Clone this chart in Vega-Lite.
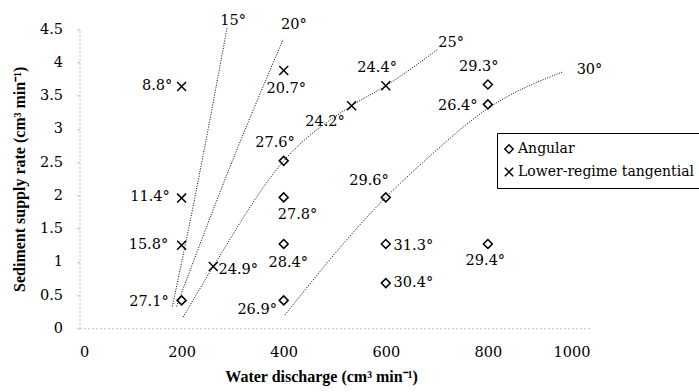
{
  "$schema": "https://vega.github.io/schema/vega-lite/v6.json",
  "width": 510.5,
  "height": 299,
  "autosize": {"type": "none"},
  "padding": {"left": 79.5, "top": 29.3, "right": 109, "bottom": 63.7},
  "background": "white",
  "config": {"view": {"stroke": null}, "font": "DejaVu Serif"},
  "layer": [
    {
      "data": {"values": [
        {"curve": "15", "x": 182, "y": 0.33},
        {"curve": "15", "x": 226, "y": 1.97},
        {"curve": "15", "x": 289, "y": 4.52},
        {"curve": "20", "x": 190, "y": 0.33},
        {"curve": "20", "x": 300, "y": 2.53},
        {"curve": "20", "x": 399, "y": 4.35},
        {"curve": "25", "x": 203, "y": 0.17},
        {"curve": "25", "x": 262, "y": 0.93},
        {"curve": "25", "x": 400, "y": 2.52},
        {"curve": "25", "x": 533, "y": 3.35},
        {"curve": "25", "x": 600, "y": 3.65},
        {"curve": "25", "x": 702, "y": 4.2},
        {"curve": "30", "x": 402, "y": 0.2},
        {"curve": "30", "x": 600, "y": 1.97},
        {"curve": "30", "x": 679, "y": 2.54},
        {"curve": "30", "x": 800, "y": 3.31},
        {"curve": "30", "x": 947, "y": 3.86}
      ]},
      "mark": {"type": "line", "color": "black", "strokeWidth": 1, "strokeDash": [1, 1.5], "interpolate": "monotone"},
      "encoding": {
        "x": {
          "field": "x", "type": "quantitative",
          "scale": {"domain": [0, 1000], "nice": false, "zero": false},
          "axis": {
            "title": "Water discharge (cm³ min⁻¹)",
            "tickCount": 5,
            "format": "d",
            "grid": false, "ticks": false,
            "domainColor": "#c0c0c0", "domainDash": [2, 2], "domainWidth": 1,
            "labelFont": "DejaVu Serif", "labelFontSize": 14.5, "labelColor": "black", "labelPadding": 17,
            "titleFont": "Liberation Serif", "titleFontSize": 16, "titleFontWeight": "bold", "titleColor": "black",
            "titlePadding": 10, "titleX": 241.5
          }
        },
        "y": {
          "field": "y", "type": "quantitative",
          "scale": {"domain": [0, 4.5], "nice": false, "zero": false},
          "axis": {
            "title": "Sediment supply rate (cm³ min⁻¹)",
            "tickCount": 9,
            "format": "~g",
            "grid": false,
            "tickColor": "#c0c0c0", "tickSize": 3,
            "domainColor": "#c0c0c0", "domainDash": [2, 2], "domainWidth": 1,
            "labelFont": "DejaVu Serif", "labelFontSize": 14.5, "labelColor": "black", "labelPadding": 14,
            "titleFont": "Liberation Serif", "titleFontSize": 16, "titleFontWeight": "bold", "titleColor": "black",
            "titlePadding": 12
          }
        },
        "detail": {"field": "curve"}
      }
    },
    {
      "data": {"values": [
        {"x": 200, "y": 0.42, "type": "Angular"},
        {"x": 400, "y": 0.42, "type": "Angular"},
        {"x": 400, "y": 1.27, "type": "Angular"},
        {"x": 400, "y": 1.97, "type": "Angular"},
        {"x": 400, "y": 2.52, "type": "Angular"},
        {"x": 600, "y": 1.97, "type": "Angular"},
        {"x": 600, "y": 1.27, "type": "Angular"},
        {"x": 600, "y": 0.68, "type": "Angular"},
        {"x": 800, "y": 1.27, "type": "Angular"},
        {"x": 800, "y": 3.37, "type": "Angular"},
        {"x": 800, "y": 3.67, "type": "Angular"},
        {"x": 200, "y": 3.64, "type": "Lower-regime tangential"},
        {"x": 400, "y": 3.88, "type": "Lower-regime tangential"},
        {"x": 200, "y": 1.96, "type": "Lower-regime tangential"},
        {"x": 200, "y": 1.25, "type": "Lower-regime tangential"},
        {"x": 262, "y": 0.93, "type": "Lower-regime tangential"},
        {"x": 533, "y": 3.35, "type": "Lower-regime tangential"},
        {"x": 600, "y": 3.65, "type": "Lower-regime tangential"}
      ]},
      "mark": {"type": "point", "filled": false, "color": "black", "strokeWidth": 1.5, "size": 80, "opacity": 1},
      "encoding": {
        "x": {"field": "x", "type": "quantitative"},
        "y": {"field": "y", "type": "quantitative"},
        "shape": {
          "field": "type", "type": "nominal",
          "scale": {"domain": ["Angular", "Lower-regime tangential"], "range": ["diamond", "M-1,-1L1,1M-1,1L1,-1"]},
          "legend": {
            "title": null, "orient": "none", "legendX": 417.5, "legendY": 103.7,
            "strokeColor": "black", "fillColor": "white", "padding": 5,
            "labelFont": "DejaVu Serif", "labelFontSize": 14, "labelColor": "black", "labelOffset": 2, "labelLimit": 0,
            "symbolStrokeColor": "black", "symbolStrokeWidth": 1.5, "symbolSize": 70,
            "clipHeight": 22, "rowPadding": 1
          }
        }
      }
    },
    {
      "data": {"values": [
        {"x": 152, "y": 3.65, "t": "8.8°"},
        {"x": 405, "y": 3.6, "t": "20.7°"},
        {"x": 481, "y": 3.1, "t": "24.2°"},
        {"x": 383, "y": 2.79, "t": "27.6°"},
        {"x": 138, "y": 1.98, "t": "11.4°"},
        {"x": 135, "y": 1.25, "t": "15.8°"},
        {"x": 136, "y": 0.4, "t": "27.1°"},
        {"x": 311, "y": 0.88, "t": "24.9°"},
        {"x": 409, "y": 0.98, "t": "28.4°"},
        {"x": 348, "y": 0.28, "t": "26.9°"},
        {"x": 427, "y": 1.71, "t": "27.8°"},
        {"x": 567, "y": 2.21, "t": "29.6°"},
        {"x": 654, "y": 1.24, "t": "31.3°"},
        {"x": 654, "y": 0.68, "t": "30.4°"},
        {"x": 795, "y": 1.01, "t": "29.4°"},
        {"x": 741, "y": 3.35, "t": "26.4°"},
        {"x": 782, "y": 3.94, "t": "29.3°"},
        {"x": 583, "y": 3.92, "t": "24.4°"},
        {"x": 301, "y": 4.63, "t": "15°"},
        {"x": 420, "y": 4.57, "t": "20°"},
        {"x": 728, "y": 4.3, "t": "25°"},
        {"x": 999, "y": 3.89, "t": "30°"}
      ]},
      "mark": {"type": "text", "font": "DejaVu Serif", "fontSize": 14.5, "color": "black", "align": "center", "baseline": "middle"},
      "encoding": {
        "x": {"field": "x", "type": "quantitative"},
        "y": {"field": "y", "type": "quantitative"},
        "text": {"field": "t"}
      }
    }
  ]
}
